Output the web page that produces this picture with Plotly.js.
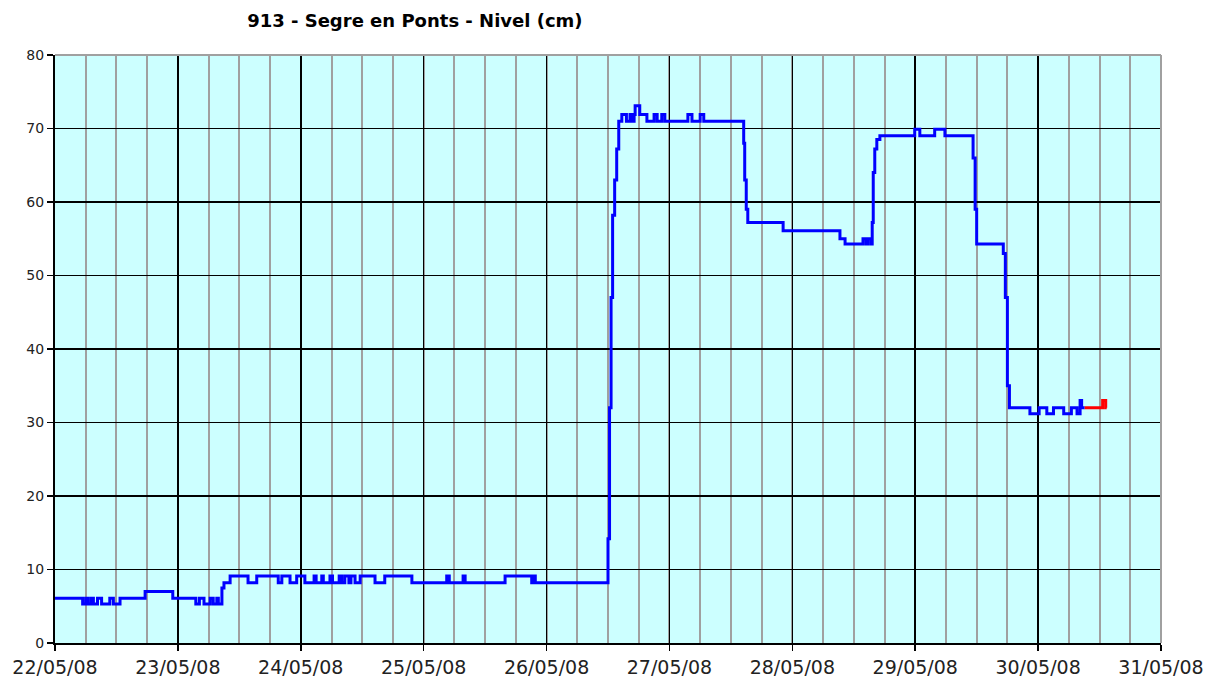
<!DOCTYPE html>
<html>
<head>
<meta charset="utf-8">
<script src="https://cdn.plot.ly/plotly-3.0.1.min.js"></script>
<style>html,body{margin:0;padding:0;background:#fff;}#chart{width:1206px;height:677px;}</style>
</head>
<body>
<div id="chart"></div>
<script>
// Hours since 22/05/08 00:00 and river level (cm)
var blueHours = [0, 5.4, 6.0, 6.4, 7.0, 7.5, 8.3, 9.1, 10.7, 11.4, 12.7, 17.6, 23.0, 27.5, 28.2, 29.1, 30.3, 30.9, 31.6, 31.9, 32.6,
  33.0, 34.2, 37.7, 39.4, 43.6, 44.3, 45.9, 47.2, 48.8, 50.6, 51.0, 52.1, 52.4, 53.7, 54.2, 55.5, 56.0, 56.6, 57.4, 57.8, 58.6,
  59.6, 62.5, 64.4, 69.7, 76.5, 77.0, 79.7, 80.1, 87.9, 93.1, 93.5, 93.8,
  108.0, 108.3, 108.6, 108.9, 109.3, 109.7, 110.1, 110.7, 111.6, 112.3, 112.8, 113.1, 113.3, 114.2, 115.6,
  117.0, 117.6, 118.5, 119.1, 123.6, 124.4, 126.0, 126.7,
  134.5, 134.7, 135.0, 135.3, 142.2, 153.3, 154.3, 157.8, 158.4, 158.7, 159.3,
  159.6, 159.8, 160.1, 160.5, 161.1, 167.9, 168.9, 171.8, 173.8,
  179.3, 179.7, 180.0, 185.2, 185.6, 186.0, 186.4,
  190.4, 192.2, 193.7, 195.0, 197.0, 198.5, 199.6, 200.2, 200.5, 201.1];
var blueLevel = [6.1, 5.3, 6.1, 5.3, 6.1, 5.3, 6.1, 5.3, 6.1, 5.3, 6.1, 7.0, 6.1, 5.3, 6.1, 5.3, 6.1, 5.3, 6.1, 5.3, 7.5,
  8.2, 9.1, 8.2, 9.1, 8.2, 9.1, 8.2, 9.1, 8.2, 9.1, 8.2, 9.1, 8.2, 9.1, 8.2, 9.1, 8.2, 9.1, 8.2, 9.1, 8.2,
  9.1, 8.2, 9.1, 8.2, 9.1, 8.2, 9.1, 8.2, 9.1, 8.2, 9.1, 8.2,
  14.2, 32.0, 47.0, 58.2, 63.0, 67.2, 71.0, 71.9, 71.0, 71.9, 71.0, 71.9, 73.1, 71.9, 71.0,
  71.9, 71.0, 71.9, 71.0, 71.9, 71.0, 71.9, 71.0,
  68.0, 63.0, 59.0, 57.2, 56.1, 55.0, 54.3, 55.0, 54.3, 55.0, 54.3,
  57.2, 64.0, 67.2, 68.5, 69.0, 69.9, 69.0, 69.9, 69.0,
  66.0, 59.0, 54.3, 53.0, 47.0, 35.0, 32.0,
  31.2, 32.0, 31.2, 32.0, 31.2, 32.0, 31.2, 33.0, 32.0, 32.0];
var redHours = [201.1, 204.6, 205.2, 205.4];
var redLevel = [32.0, 33.0, 32.0, 32.0];

var dayTicks = ['2008-05-22', '2008-05-23', '2008-05-24', '2008-05-25', '2008-05-26', '2008-05-27', '2008-05-28', '2008-05-29', '2008-05-30', '2008-05-31'];
var dayLabels = ['22/05/08', '23/05/08', '24/05/08', '25/05/08', '26/05/08', '27/05/08', '28/05/08', '29/05/08', '30/05/08', '31/05/08'];
var levelTicks = [0, 10, 20, 30, 40, 50, 60, 70, 80];

var base = Date.UTC(2008, 4, 22);
function toTime(hs) { return hs.map(function (h) { return base + h * 3600000; }); }

var traces = [
  {x: toTime(blueHours), y: blueLevel, type: 'scatter', mode: 'lines', line: {color: '#0000FF', width: 3, shape: 'hv'}},
  {x: toTime(redHours), y: redLevel, type: 'scatter', mode: 'lines', line: {color: '#FF0000', width: 3, shape: 'hv'}}
];

var layout = {
  width: 1206, height: 677,
  margin: {l: 55, r: 45, t: 55, b: 34, pad: 0},
  paper_bgcolor: '#FFFFFF',
  plot_bgcolor: '#CCFFFF',
  showlegend: false,
  font: {family: 'DejaVu Sans, Verdana, sans-serif', color: '#000'},
  title: {text: '913 - Segre en Ponts - Nivel (cm)', x: 0.344, xref: 'container', xanchor: 'center', y: 0.97, yref: 'container', yanchor: 'middle',
    font: {family: 'DejaVu Sans', size: 18, weight: 'bold', color: '#000'}},
  xaxis: {
    type: 'date',
    range: [dayTicks[0], dayTicks[dayTicks.length - 1]],
    tickmode: 'array', tickvals: dayTicks, ticktext: dayLabels,
    ticks: 'outside', ticklen: 6, tickwidth: 1.5, tickcolor: '#000',
    tickfont: {size: 19, color: '#222'},
    showgrid: true, gridcolor: '#000', gridwidth: 1.5,
    minor: {dtick: 6 * 3600000, showgrid: true, gridcolor: '#A0A0A0', gridwidth: 2, ticks: ''},
    showline: true, linecolor: '#000', linewidth: 2,
    zeroline: false, fixedrange: true
  },
  yaxis: {
    range: [0, 80],
    tickmode: 'array', tickvals: levelTicks,
    ticks: 'outside', ticklen: 6, tickwidth: 1.5, tickcolor: '#000',
    tickfont: {size: 14, color: '#222'},
    showgrid: true, gridcolor: '#000', gridwidth: 1.5,
    showline: true, linecolor: '#000', linewidth: 2,
    zeroline: false, fixedrange: true
  },
  shapes: [
    {type: 'line', xref: 'paper', yref: 'paper', x0: 0, x1: 1, y0: 1, y1: 1, line: {color: '#A0A0A0', width: 2}, layer: 'above'},
    {type: 'line', xref: 'paper', yref: 'paper', x0: 1, x1: 1, y0: 0, y1: 1, line: {color: '#A0A0A0', width: 2}, layer: 'above'}
  ]
};

Plotly.newPlot('chart', traces, layout, {staticPlot: true, displayModeBar: false});
</script>
</body>
</html>
